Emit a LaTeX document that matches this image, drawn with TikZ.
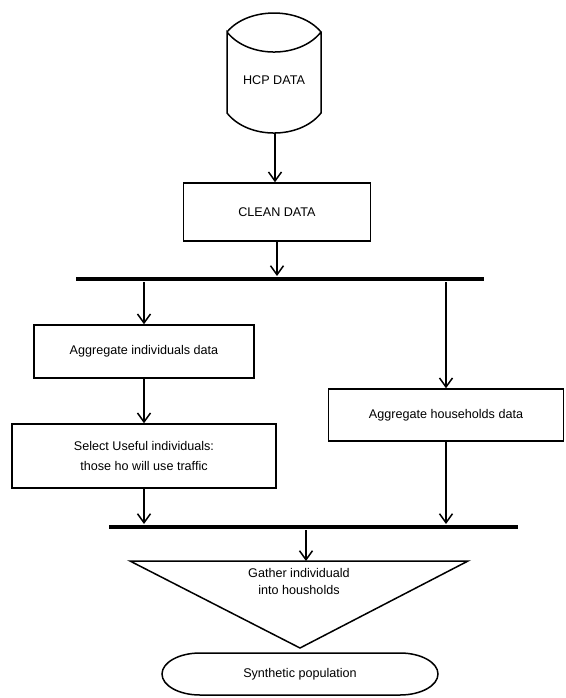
\documentclass[tikz,border=0pt]{standalone}
\usepackage{fontspec}
\setmainfont{Liberation Sans}
\usetikzlibrary{arrows.meta}
\begin{document}
\begin{tikzpicture}[x=1pt,y=-1pt,
  font=\fontsize{12.6pt}{20pt}\selectfont,
  box/.style={draw,line width=1.5pt,inner sep=0pt,align=center},
  bar/.style={fill=black,inner sep=0pt,minimum height=4.5pt},
  arr/.style={line width=1.5pt,-{Straight Barb[length=9pt,width=13pt,line width=1.5pt]}},
  line width=1.5pt]
\useasboundingbox (0,0) rectangle (565,698);
% HCP DATA cylinder
\draw[line width=1.5pt] (227,32) .. controls (248,6.7) and (300,6.7) .. (321,32)
  .. controls (300,58.7) and (248,58.7) .. (227,32) -- (227,113)
  .. controls (248,139.7) and (300,139.7) .. (321,113) -- (321,32);
\node (hcp) at (274,80) {HCP DATA};
\coordinate (hcpb) at (275,133);
% boxes
\node[box,minimum width=187pt,minimum height=58pt] (clean) at (277,212) {CLEAN DATA};
\node[bar,minimum width=408pt] (bar1) at (280,279) {};
\node[box,minimum width=220pt,minimum height=53pt] (ai) at (144,351.5) {Aggregate individuals data};
\node[box,minimum width=264pt,minimum height=64pt] (sel) at (144,456) {Select Useful individuals:\\ those ho will use traffic};
\node[box,minimum width=235pt,minimum height=52pt] (hh) at (446,415) {Aggregate households data};
\node[bar,minimum width=409pt] (bar2) at (313.5,527) {};
% triangle
\draw[line width=1.5pt] (130,561) -- (468,561) -- (300,648) -- cycle;
\coordinate (tri) at (306,561);
\node[align=center,font=\fontsize{12.6pt}{17pt}\selectfont] (gather) at (299,581) {Gather individuald\\ into housholds};
% terminator
\draw[line width=1.5pt] (200,653) -- (400,653) arc[start angle=-90,end angle=90,x radius=38,y radius=21]
  -- (200,695) arc[start angle=90,end angle=270,x radius=38,y radius=21] -- cycle;
\node (syn) at (300,674) {Synthetic population};
% connectors
\draw[arr] (hcpb) -- (clean.north -| hcpb);
\draw[arr] (clean.south) -- (bar1.north -| clean.south);
\draw[arr] (bar1.south -| ai.north) -- (ai.north);
\draw[arr] (ai.south) -- (sel.north);
\draw[arr] (bar1.south -| hh.north) -- (hh.north);
\draw[arr] (sel.south) -- (bar2.north -| sel.south);
\draw[arr] (hh.south) -- (bar2.north -| hh.south);
\draw[arr] (bar2.south -| tri) -- (tri);
\end{tikzpicture}
\end{document}
